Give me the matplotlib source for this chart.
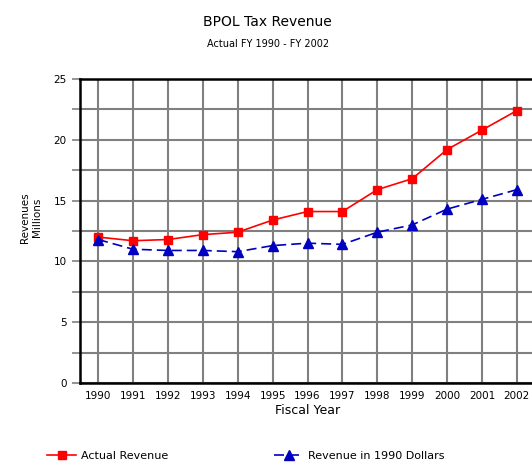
import numpy as np
import matplotlib.pyplot as plt

years = [1990, 1991, 1992, 1993, 1994, 1995, 1996, 1997, 1998, 1999, 2000, 2001, 2002]
actual = [12.0, 11.7, 11.8, 12.2, 12.4, 13.4, 14.1, 14.1, 15.9, 16.8, 19.2, 20.8, 22.4]
dollars_1990 = [11.8, 11.0, 10.9, 10.9, 10.8, 11.3, 11.5, 11.4, 12.4, 13.0, 14.3, 15.1, 15.9]
yticks = [0, 5, 10, 15, 20, 25]

fig = plt.figure(figsize=(5.32, 4.63), dpi=100)
ax = fig.add_axes([80/532, 80/463, 455/532, 304/463])

ax.plot(years, actual, color='red', lw=1.2, marker='s', ms=5.5, label='Actual Revenue')
ax.plot(years, dollars_1990, color='#0000c0', lw=1.2, ls=(0, (6, 3)), marker='^', ms=6.5,
        label='Revenue in 1990 Dollars')

ax.set_xlim(1989.48, 2002.52)
ax.set_ylim(0, 25)
ax.set_xticks(years)
ax.set_xticklabels([str(y) for y in years], fontsize=7.5)
ax.set_yticks(yticks)
ax.set_yticks(np.arange(2.5, 25, 5), minor=True)
ax.tick_params(axis='y', labelsize=7.5, color='gray', length=6, width=1.2, which='both')
ax.tick_params(axis='x', length=0, pad=6)
ax.grid(True, which='both', color='#808080', lw=1.5)
ax.set_axisbelow(True)
for s in ['left', 'top', 'bottom']:
    ax.spines[s].set_linewidth(1.8)
ax.spines['right'].set_visible(False)

ax.set_xlabel('Fiscal Year', fontsize=9, labelpad=2)
fig.text(0.058, 0.53, 'Revenues\nMillions', rotation=90, ha='center', va='center', fontsize=7.5)

fig.text(0.503, 0.952, 'BPOL Tax Revenue', ha='center', va='center', fontsize=10)
fig.text(0.503, 0.906, 'Actual FY 1990 - FY 2002', ha='center', va='center', fontsize=7)

fig.legend(loc='lower left', bbox_to_anchor=(0.07, -0.018), ncol=2, frameon=False, fontsize=8,
           columnspacing=9.6, handlelength=2.6, handletextpad=0.4)

fig.savefig('out.png', dpi=100)
